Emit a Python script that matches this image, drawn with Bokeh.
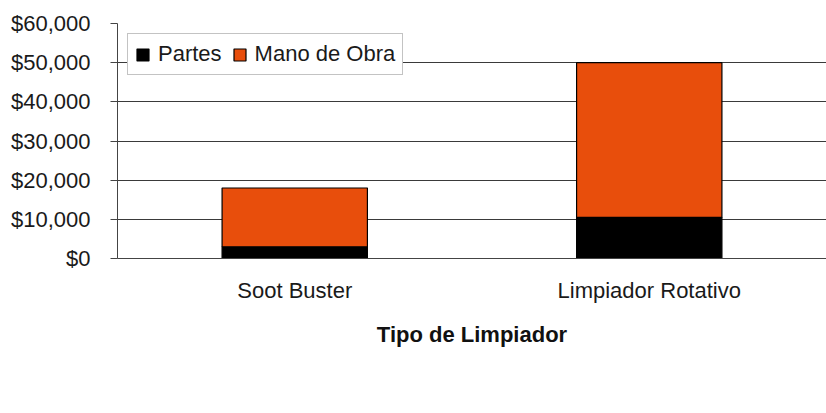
from bokeh.plotting import figure
from bokeh.models import (ColumnDataSource, FactorRange, Range1d, NumeralTickFormatter,
                          SingleIntervalTicker, Legend)
from bokeh.embed import file_html
from bokeh.resources import INLINE

# Data
categories = ["Soot Buster", "Limpiador Rotativo"]
series_names = ["Partes", "Mano de Obra"]
partes = [3000, 10500]
mano_de_obra = [15000, 39500]
series_colors = ["#000000", "#E84E0C"]

FONT = "Liberation Sans"

source = ColumnDataSource(dict(tipo=categories, Partes=partes, **{"Mano de Obra": mano_de_obra}))

p = figure(
    x_range=FactorRange(factors=categories, range_padding=0),
    y_range=Range1d(0, 60000),
    width=826, height=413,
    output_backend="svg", toolbar_location=None,
    min_border_left=117, min_border_right=0, min_border_top=23, min_border_bottom=155,
    background_fill_color="white", border_fill_color="white",
)
p.outline_line_color = None

renderers = p.vbar_stack(series_names, x="tipo", width=0.41, source=source,
                         color=series_colors, line_color="black", line_width=1.2)

# Y axis
p.yaxis.ticker = SingleIntervalTicker(interval=10000)
p.yaxis.formatter = NumeralTickFormatter(format="$0,0")
p.yaxis.major_label_text_font = FONT
p.yaxis.major_label_text_font_size = "22px"
p.yaxis.major_label_text_color = "#1a1a1a"
p.yaxis.major_tick_out = 7
p.yaxis.major_tick_in = 0
p.yaxis.minor_tick_line_color = None
p.yaxis.major_label_standoff = 20
p.yaxis.axis_line_color = "#444444"
p.yaxis.major_tick_line_color = "#444444"

# X axis
p.xaxis.major_label_text_font = FONT
p.xaxis.major_label_text_font_size = "22px"
p.xaxis.major_label_text_color = "#1a1a1a"
p.xaxis.major_tick_line_color = None
p.xaxis.major_label_standoff = 13
p.xaxis.axis_line_color = "#444444"
p.xaxis.axis_label = "Tipo de Limpiador"
p.xaxis.axis_label_text_font = FONT
p.xaxis.axis_label_text_font_size = "22px"
p.xaxis.axis_label_text_font_style = "bold"
p.xaxis.axis_label_text_color = "#111111"
p.xaxis.axis_label_standoff = 16

# Grid
p.xgrid.grid_line_color = None
p.ygrid.grid_line_color = "#3a3a3a"
p.ygrid.grid_line_width = 1

# Legend (inside the plot area, in the empty upper-left region)
lg = Legend(items=[(name, [r]) for name, r in zip(series_names, renderers)],
            location="top_left", orientation="horizontal")
lg.label_text_font = FONT
lg.label_text_font_size = "22px"
lg.label_text_color = "#1a1a1a"
lg.label_height = 24
lg.glyph_width = 15
lg.glyph_height = 15
lg.label_standoff = 8
lg.spacing = 10
lg.padding = 7
lg.margin = 10
lg.border_line_color = "#888888"
lg.border_line_width = 1
lg.background_fill_color = "white"
lg.background_fill_alpha = 1
p.add_layout(lg)

open("out.html", "w").write(file_html(p, INLINE))
